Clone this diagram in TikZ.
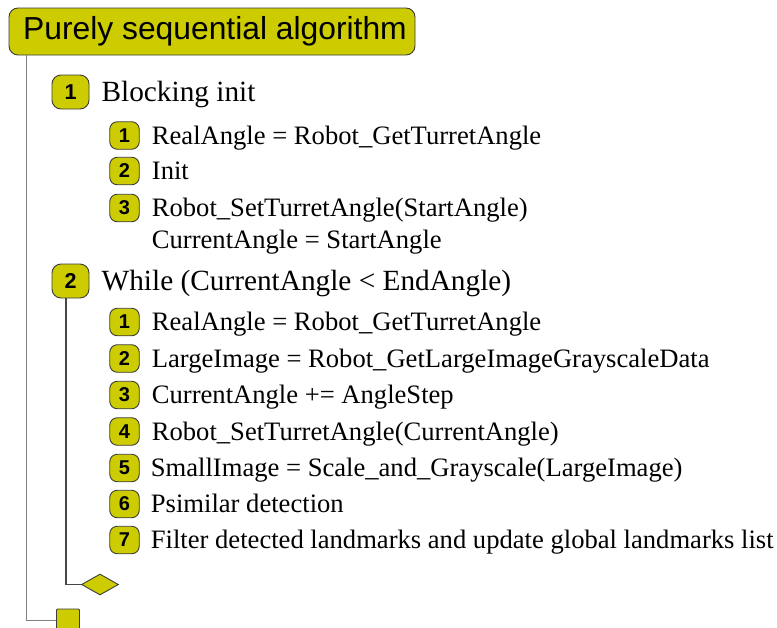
\documentclass[tikz,border=0pt]{standalone}
\usepackage{fontspec}
\setmainfont{Liberation Serif}
\setsansfont{Liberation Sans}
\usetikzlibrary{positioning,shapes.geometric}
\definecolor{badgefill}{RGB}{204,204,0}
\definecolor{edgegray}{RGB}{60,60,60}
\definecolor{railgray}{RGB}{128,128,128}
\definecolor{loopgray}{RGB}{70,70,70}

\begin{document}
\begin{tikzpicture}[x=1pt,y=-1pt,
  titlebox/.style={draw=edgegray, fill=badgefill, rounded corners=9pt, line width=0.9pt,
    minimum width=406pt, minimum height=47pt, inner sep=0pt,
    font=\sffamily\fontsize{31.8}{36}\selectfont},
  bigbadge/.style={draw=edgegray, fill=badgefill, rounded corners=9pt, line width=0.9pt,
    minimum width=37pt, minimum height=34pt, inner sep=0pt,
    font=\sffamily\bfseries\fontsize{21.5}{22}\selectfont},
  smallbadge/.style={draw=edgegray, fill=badgefill, rounded corners=7.5pt, line width=0.9pt,
    minimum width=29.5pt, minimum height=27.5pt, inner sep=0pt,
    font=\sffamily\bfseries\fontsize{20}{21}\selectfont},
  toptext/.style={inner sep=0pt, text height=19.4pt, text depth=0pt,
    font=\fontsize{29.3}{32}\selectfont},
  subtext/.style={inner sep=0pt, text height=17.6pt, text depth=0pt,
    font=\fontsize{26.6}{30}\selectfont},
  rail/.style={draw=railgray, line width=1.8pt},
  looprail/.style={draw=loopgray, line width=1.2pt},
  endmark/.style={draw=edgegray, fill=badgefill, line width=0.9pt, inner sep=0pt},
]
\useasboundingbox (0,0) rectangle (777,627);

% title
\node[titlebox] (title) at (212,31.5) {\hspace*{6pt}Purely sequential algorithm};

% first block: blocking init
\node[bigbadge] (b1) at (70.5,92) {1};
\node[toptext, anchor=west, right=12pt of b1] (b1t) {Blocking init};

\node[smallbadge] (s11) at (124.5,135.5) {1};
\node[subtext, anchor=west, right=12pt of s11] (s11t) {RealAngle = Robot\_GetTurretAngle};
\node[smallbadge] (s12) at (124.5,171) {2};
\node[subtext, anchor=west, right=12pt of s12] (s12t) {Init};
\node[smallbadge] (s13) at (124.5,208) {3};
\node[subtext, anchor=west, right=12pt of s13] (s13t) {Robot\_SetTurretAngle(StartAngle)};
\node[subtext, anchor=west] (s13u) at (s13t.west |- 0,240) {CurrentAngle = StartAngle};

% second block: the loop
\node[bigbadge] (b2) at (70.5,281) {2};
\node[toptext, anchor=west, right=12pt of b2] (b2t) {While (CurrentAngle < EndAngle)};

\node[smallbadge] (s21) at (124.5,322) {1};
\node[subtext, anchor=west, right=12pt of s21] (s21t) {RealAngle = Robot\_GetTurretAngle};
\node[smallbadge] (s22) at (124.5,358.5) {2};
\node[subtext, anchor=west, right=12pt of s22] (s22t) {LargeImage = Robot\_GetLargeImageGrayscaleData};
\node[smallbadge] (s23) at (124.5,395) {3};
\node[subtext, anchor=west, right=12pt of s23] (s23t) {CurrentAngle += AngleStep};
\node[smallbadge] (s24) at (124.5,431.5) {4};
\node[subtext, anchor=west, right=12pt of s24] (s24t) {Robot\_SetTurretAngle(CurrentAngle)};
\node[smallbadge] (s25) at (124.5,468) {5};
\node[subtext, anchor=west, right=11pt of s25] (s25t) {SmallImage = Scale\_and\_Grayscale(LargeImage)};
\node[smallbadge] (s26) at (124.5,504) {6};
\node[subtext, anchor=west, right=11pt of s26] (s26t) {Psimilar detection};
\node[smallbadge] (s27) at (124.5,540) {7};
\node[subtext, anchor=west, right=11pt of s27] (s27t) {Filter detected landmarks and update global landmarks list};

% loop end and algorithm end markers
\node[endmark, diamond, minimum width=37pt, minimum height=21pt] (loopd) at (100,584.5) {};
\node[endmark, rectangle, rounded corners=1pt, minimum width=23pt, minimum height=23pt] (endsq) at (68,620.5) {};

% rails
\draw[looprail] ([xshift=-4.5pt]b2.south) |- (loopd.west);
\draw[rail] ([xshift=18pt]title.south west) |- (endsq.west);
\end{tikzpicture}
\end{document}
